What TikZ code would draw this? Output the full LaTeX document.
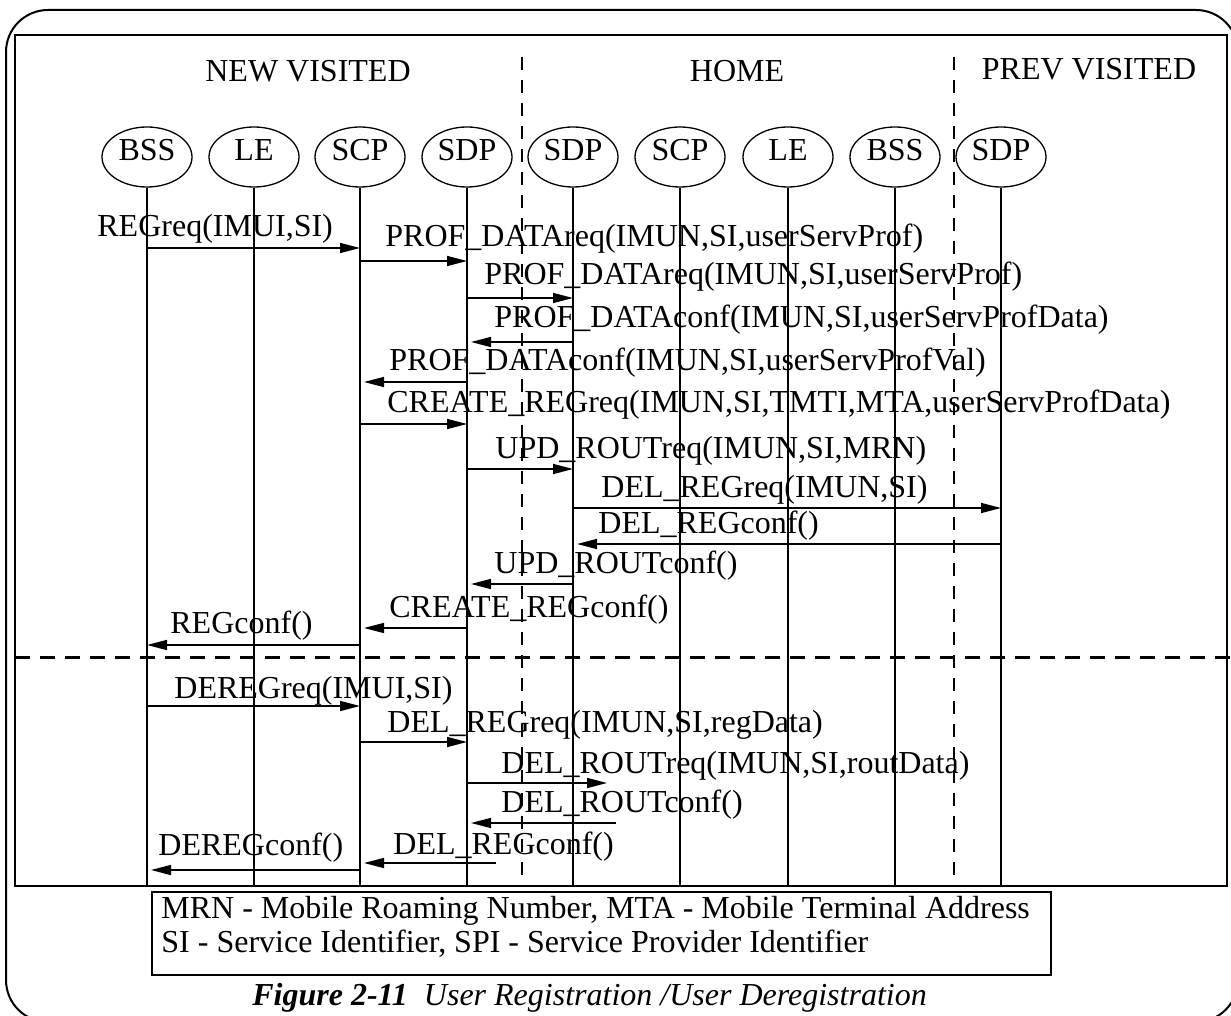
\documentclass[tikz,border=0pt]{standalone}
\usepackage{fontspec}
\setmainfont{Liberation Serif}
\usetikzlibrary{shapes.geometric,arrows.meta}

\tikzset{
  entity/.style={draw, ellipse, line width=0.65pt, minimum width=45pt, minimum height=30pt,
    inner sep=0pt, text height=10.6pt, text depth=7.5pt, font=\fontsize{16}{19}\selectfont},
  life/.style={line width=0.65pt},
  msg/.style={line width=0.75pt, -{Triangle[length=10pt,width=5pt]}},
  reply/.style={msg, shorten >=2pt},
  lbl/.style={anchor=base west, inner sep=0pt, font=\fontsize{16}{19}\selectfont},
  region/.style={anchor=base, inner sep=0pt, font=\fontsize{16}{19}\selectfont},
  zoneline/.style={line width=0.65pt, dash pattern=on 6.5pt off 5pt},
  phaseline/.style={line width=1.5pt, dash pattern=on 7.5pt off 5pt},
}

\begin{document}
\begin{tikzpicture}[x=0.5pt,y=-0.5pt]
  \useasboundingbox (0,0) rectangle (1231,1016);

  % frames
  \draw[line width=1pt, rounded corners=21pt] (6,10) rectangle (1238,1022);
  \draw[line width=1pt] (15,35) rectangle (1227,886);

  % the three networks
  \node[region] (nv) at (308,82) {NEW VISITED};
  \node[region] (home) at (737,82) {HOME};
  \node[region] (prev) at (1089,80) {PREV VISITED};
  \draw[zoneline] (522,57) -- (522,886);
  \draw[zoneline] (954,57) -- (954,886);

  % entities
  \node[entity] (nvBSS) at (147,157) {BSS};
  \node[entity] (nvLE) at (254,157) {LE};
  \node[entity] (nvSCP) at (360,157) {SCP};
  \node[entity] (nvSDP) at (467,157) {SDP};
  \node[entity] (hSDP) at (573,157) {SDP};
  \node[entity] (hSCP) at (680,157) {SCP};
  \node[entity] (hLE) at (788,157) {LE};
  \node[entity] (hBSS) at (895,157) {BSS};
  \node[entity] (pvSDP) at (1001,157) {SDP};

  % lifelines
  \draw[life] (nvBSS.south) -- (nvBSS |- 0,886);
  \draw[life] (nvLE.south) -- (nvLE |- 0,886);
  \draw[life] (nvSCP.south) -- (nvSCP |- 0,886);
  \draw[life] (nvSDP.south) -- (nvSDP |- 0,886);
  \draw[life] (hSDP.south) -- (hSDP |- 0,886);
  \draw[life] (hSCP.south) -- (hSCP |- 0,886);
  \draw[life] (hLE.south) -- (hLE |- 0,886);
  \draw[life] (hBSS.south) -- (hBSS |- 0,886);
  \draw[life] (pvSDP.south) -- (pvSDP |- 0,886);

  % registration
  \draw[msg] (nvBSS |- 0,248) -- (nvSCP |- 0,248);
  \node[lbl] (reg) at (97,237) {REGreq(IMUI,SI)};
  \draw[msg] (nvSCP |- 0,261) -- (nvSDP |- 0,261);
  \node[lbl] (prof1) at (385,247) {PROF\_DATAreq(IMUN,SI,userServProf)};
  \draw[msg] (nvSDP |- 0,298) -- (hSDP |- 0,298);
  \node[lbl] (prof2) at (484,285) {PROF\_DATAreq(IMUN,SI,userServProf)};
  \draw[reply] (hSDP |- 0,342) -- (nvSDP |- 0,342);
  \node[lbl] (profc1) at (494,328) {PROF\_DATAconf(IMUN,SI,userServProfData)};
  \draw[reply] (nvSDP |- 0,382) -- (nvSCP |- 0,382);
  \node[lbl] (profc2) at (389,370) {PROF\_DATAconf(IMUN,SI,userServProfVal)};
  \draw[msg] (nvSCP |- 0,424) -- (nvSDP |- 0,424);
  \node[lbl] (creq) at (387,412) {CREATE\_REGreq(IMUN,SI,TMTI,MTA,userServProfData)};
  \draw[msg] (nvSDP |- 0,469) -- (hSDP |- 0,469);
  \node[lbl] (updreq) at (495,458) {UPD\_ROUTreq(IMUN,SI,MRN)};
  \draw[msg] (hSDP |- 0,508) -- (pvSDP |- 0,508);
  \node[lbl] (delreq) at (601,497) {DEL\_REGreq(IMUN,SI)};
  \draw[reply] (pvSDP |- 0,544) -- (hSDP |- 0,544);
  \node[lbl] (delconf) at (598,533) {DEL\_REGconf()};
  \draw[reply] (hSDP |- 0,584) -- (nvSDP |- 0,584);
  \node[lbl] (updconf) at (494,573) {UPD\_ROUTconf()};
  \draw[reply] (nvSDP |- 0,628) -- (nvSCP |- 0,628);
  \node[lbl] (cconf) at (389,617) {CREATE\_REGconf()};
  \draw[msg] (nvSCP |- 0,645) -- (nvBSS |- 0,645);
  \node[lbl] (regc) at (170,633) {REGconf()};

  % deregistration
  \draw[phaseline] (15,657) -- (1231,657);
  \draw[msg] (nvBSS |- 0,706) -- (nvSCP |- 0,706);
  \node[lbl] (dereg) at (174,698) {DEREGreq(IMUI,SI)};
  \draw[msg] (nvSCP |- 0,742) -- (nvSDP |- 0,742);
  \node[lbl] (delreq2) at (387,732) {DEL\_REGreq(IMUN,SI,regData)};
  \coordinate (routEnd) at (607,783);
  \draw[msg] (nvSDP |- 0,783) -- (routEnd);
  \node[lbl] (delrout) at (501,773) {DEL\_ROUTreq(IMUN,SI,routData)};
  \coordinate (routBack) at (616,823);
  \draw[reply] (routBack) -- (nvSDP |- routBack);
  \node[lbl] (delroutc) at (501,812) {DEL\_ROUTconf()};
  \coordinate (regBack) at (496,863);
  \draw[reply] (regBack) -- (nvSCP |- regBack);
  \node[lbl] (delconf2) at (393,854) {DEL\_REGconf()};
  \draw[reply] (nvSCP |- 0,870) -- (nvBSS |- 0,870);
  \node[lbl] (deregc) at (158,855) {DEREGconf()};

  % abbreviations and caption
  \draw[line width=0.65pt] (152,892) rectangle (1051,975);
  \node[lbl] (key1) at (161,918) {MRN - Mobile Roaming Number, MTA - Mobile Terminal Address};
  \node[lbl] (key2) at (161,952) {SI - Service Identifier, SPI - Service Provider Identifier};
  \node[lbl] (cap) at (252,1005) {\bfseries\itshape Figure 2-11\ \ \mdseries User Registration /User Deregistration};
\end{tikzpicture}
\end{document}
